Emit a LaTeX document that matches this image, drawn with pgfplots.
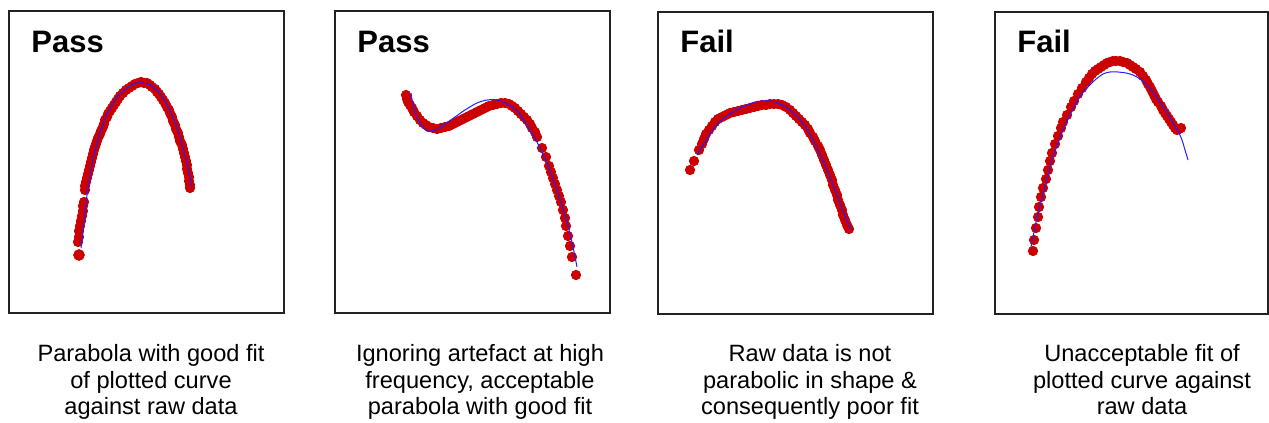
\documentclass[border=0pt]{standalone}
\usepackage{fontspec}
\setmainfont{Liberation Sans}
\usepackage{pgfplots}
\pgfplotsset{compat=1.18}

\definecolor{dotred}{HTML}{CC0000}
\definecolor{fitblue}{HTML}{2020FF}
\definecolor{framegray}{HTML}{222222}

\pgfplotsset{
  panel/.style={
    scale only axis, anchor=north west,
    y dir=reverse,
    xtick=\empty, ytick=\empty,
    axis line style={line width=1pt, draw=framegray},
    clip=false, clip mode=individual,
  },
  raw/.style={only marks, mark=*, mark size=2.35pt,
    mark options={draw=dotred, fill=dotred}},
  fit/.style={no marks, smooth, draw=fitblue, line width=0.5pt},
}

\begin{document}
\begin{tikzpicture}[x=0.5pt, y=-0.5pt]
\useasboundingbox (0,0) rectangle (1269,423);

% ---------- panel 1 ----------
\begin{axis}[panel, at={(9,11)}, width=137.5pt, height=151pt,
  xmin=9, xmax=284, ymin=11, ymax=313]
\addplot[raw, mark size=2.7pt] coordinates {(79,255)};
\addplot[raw] coordinates {
(78,242)(79,237)(79,231)(80,226)(81,221)(82,216)(83,211)(83,206)(84,202)
(85,190)(85,186)(86,182)(87,178)(88,174)(89,170)(90,166)(91,162)(92,158)
(93,154)(94,150)(95,147)(96,144)(97,141)(98,138)(100,134)(101,131)(103,127)
(104,124)(105,120)(107,117)(108,114)(110,111)(112,108)(114,105)(116,102)
(118,99)(120,96)(123,93)(126,90)(129,88)(132,86)(135,84)(138,83)(141,82)
(144,83)(147,83)(150,85)(152,87)(155,89)(157,92)(159,94)(161,97)(163,100)
(165,103)(167,107)(169,110)(170,113)(172,117)(173,121)(175,125)(176,129)
(178,133)(179,137)(180,141)(182,145)(183,149)(184,153)(185,157)(186,161)
(187,165)(187,169)(188,173)(189,177)(189,181)(190,185)(190,188)};
\addplot[fit] coordinates {
(81,248)(83,232)(85,215)(87,195)(90,178)(93,160)(97,143)(102,127)(108,112)
(115,100)(122,92)(130,86)(137,83)(143,83)(150,85)(157,90)(163,98)(169,108)
(174,120)(179,133)(183,148)(187,163)(190,177)(192,187)};
\end{axis}

% ---------- panel 2 ----------
\begin{axis}[panel, at={(335,11)}, width=137.5pt, height=151pt,
  xmin=335, xmax=610, ymin=11, ymax=313]
\addplot[raw] coordinates {
(406,95)(407,99)(408,102)(410,105)(412,108)(414,112)(417,116)(420,120)
(423,123)(426,125)(429,127)(433,128)(437,129)(441,128)(445,127)(449,126)
(453,124)(457,122)(461,120)(465,118)(469,116)(473,114)(477,112)(481,110)
(485,108)(489,106)(493,105)(497,104)(501,103)(505,103)(509,104)(512,106)
(515,108)(518,111)(521,114)(524,117)(527,120)(530,124)(532,128)(535,132)
(537,137)(542,148)(546,157)(549,166)(551,172)(553,178)(555,184)(557,190)
(559,196)(561,202)(563,210)(565,218)(566,226)(568,236)(570,246)(572,257)
(576,275)};
\addplot[fit] coordinates {
(411,93)(413,105)(417,117)(422,126)(427,131)(435,130)(445,124)(455,117)
(465,110)(477,103)(487,100)(497,100)(507,104)(517,111)(527,125)(537,142)
(547,163)(557,190)(567,222)(573,247)(577,267)};
\end{axis}

% ---------- panel 3 ----------
\begin{axis}[panel, at={(658,12)}, width=137.5pt, height=151pt,
  xmin=658, xmax=933, ymin=12, ymax=314]
\addplot[raw] coordinates {
(690,170)(694,161)(699,150)(702,144)(704,139)(706,134)(709,130)(712,126)
(715,122)(718,119)(722,117)(726,115)(730,113)(734,112)(738,111)(742,110)
(746,109)(750,108)(754,107)(758,106)(762,105)(766,105)(770,104)(774,104)
(778,104)(782,105)(786,107)(790,110)(793,113)(796,116)(799,119)(802,122)
(805,125)(808,129)(810,133)(813,137)(815,141)(818,146)(820,150)(822,155)
(824,160)(826,165)(828,170)(830,175)(832,180)(833,185)(835,190)(837,195)
(838,200)(840,205)(842,210)(843,215)(845,220)(847,225)(849,229)};
\addplot[fit] coordinates {
(697,155)(702,147)(707,139)(712,131)(717,125)(723,119)(730,114)(738,109)
(747,105)(755,102)(762,101)(770,101)(778,103)(787,108)(795,114)(802,122)
(808,131)(814,142)(820,155)(827,170)(834,187)(840,203)(846,218)(851,230)};
\end{axis}

% ---------- panel 4 ----------
\begin{axis}[panel, at={(995,12)}, width=136.5pt, height=151pt,
  xmin=995, xmax=1268, ymin=12, ymax=314]
\addplot[raw] coordinates {
(1033,251)(1034,240)(1036,228)(1038,217)(1039,207)(1041,197)(1043,188)
(1046,179)(1048,170)(1050,161)(1052,153)(1055,144)(1058,136)(1061,128)
(1063,122)(1067,115)(1071,107)(1074,101)(1078,94)(1082,88)(1086,82)
(1089,78)(1092,74)(1095,71)(1098,69)(1101,67)(1104,65)(1107,63)(1110,62)
(1113,61)(1116,61)(1120,61)(1123,62)(1127,63)(1130,65)(1133,67)(1136,69)
(1140,72)(1143,76)(1146,80)(1148,84)(1150,87)(1152,91)(1154,95)(1156,99)
(1158,102)(1161,106)(1163,110)(1165,113)(1167,116)(1169,119)(1171,122)
(1173,125)(1175,128)(1177,130)(1179,129)(1181,128)};
\addplot[fit] coordinates {
(1031,247)(1034,232)(1037,217)(1041,202)(1045,187)(1049,172)(1053,157)
(1058,143)(1063,130)(1069,117)(1075,105)(1081,95)(1088,87)(1095,80)
(1103,74)(1110,72)(1118,72)(1126,73)(1133,75)(1140,79)(1147,85)(1154,93)
(1160,102)(1167,112)(1173,123)(1178,131)(1182,140)(1185,150)(1188,160)};
\end{axis}

% ---------- verdicts ----------
\begin{scope}[every node/.style={anchor=base west, inner sep=0pt,
    font=\bfseries\fontsize{15.5}{18}\selectfont}]
  \node at (31,52) {Pass};
  \node at (357,52) {Pass};
  \node at (680,52) {Fail};
  \node at (1017,52) {Fail};
\end{scope}

% ---------- captions ----------
\begin{scope}[every node/.style={anchor=base, inner sep=0pt,
    font=\fontsize{11.8}{13.25}\selectfont}]
  \node at (151,361) {Parabola with good fit};
  \node at (151,388) {of plotted curve};
  \node at (151,414) {against raw data};
  \node at (480,361) {Ignoring artefact at high};
  \node at (480,388) {frequency, acceptable};
  \node at (480,414) {parabola with good fit};
  \node at (810,361) {Raw data is not};
  \node at (810,388) {parabolic in shape \&};
  \node at (810,414) {consequently poor fit};
  \node at (1142,361) {Unacceptable fit of};
  \node at (1142,388) {plotted curve against};
  \node at (1142,414) {raw data};
\end{scope}
\end{tikzpicture}
\end{document}
